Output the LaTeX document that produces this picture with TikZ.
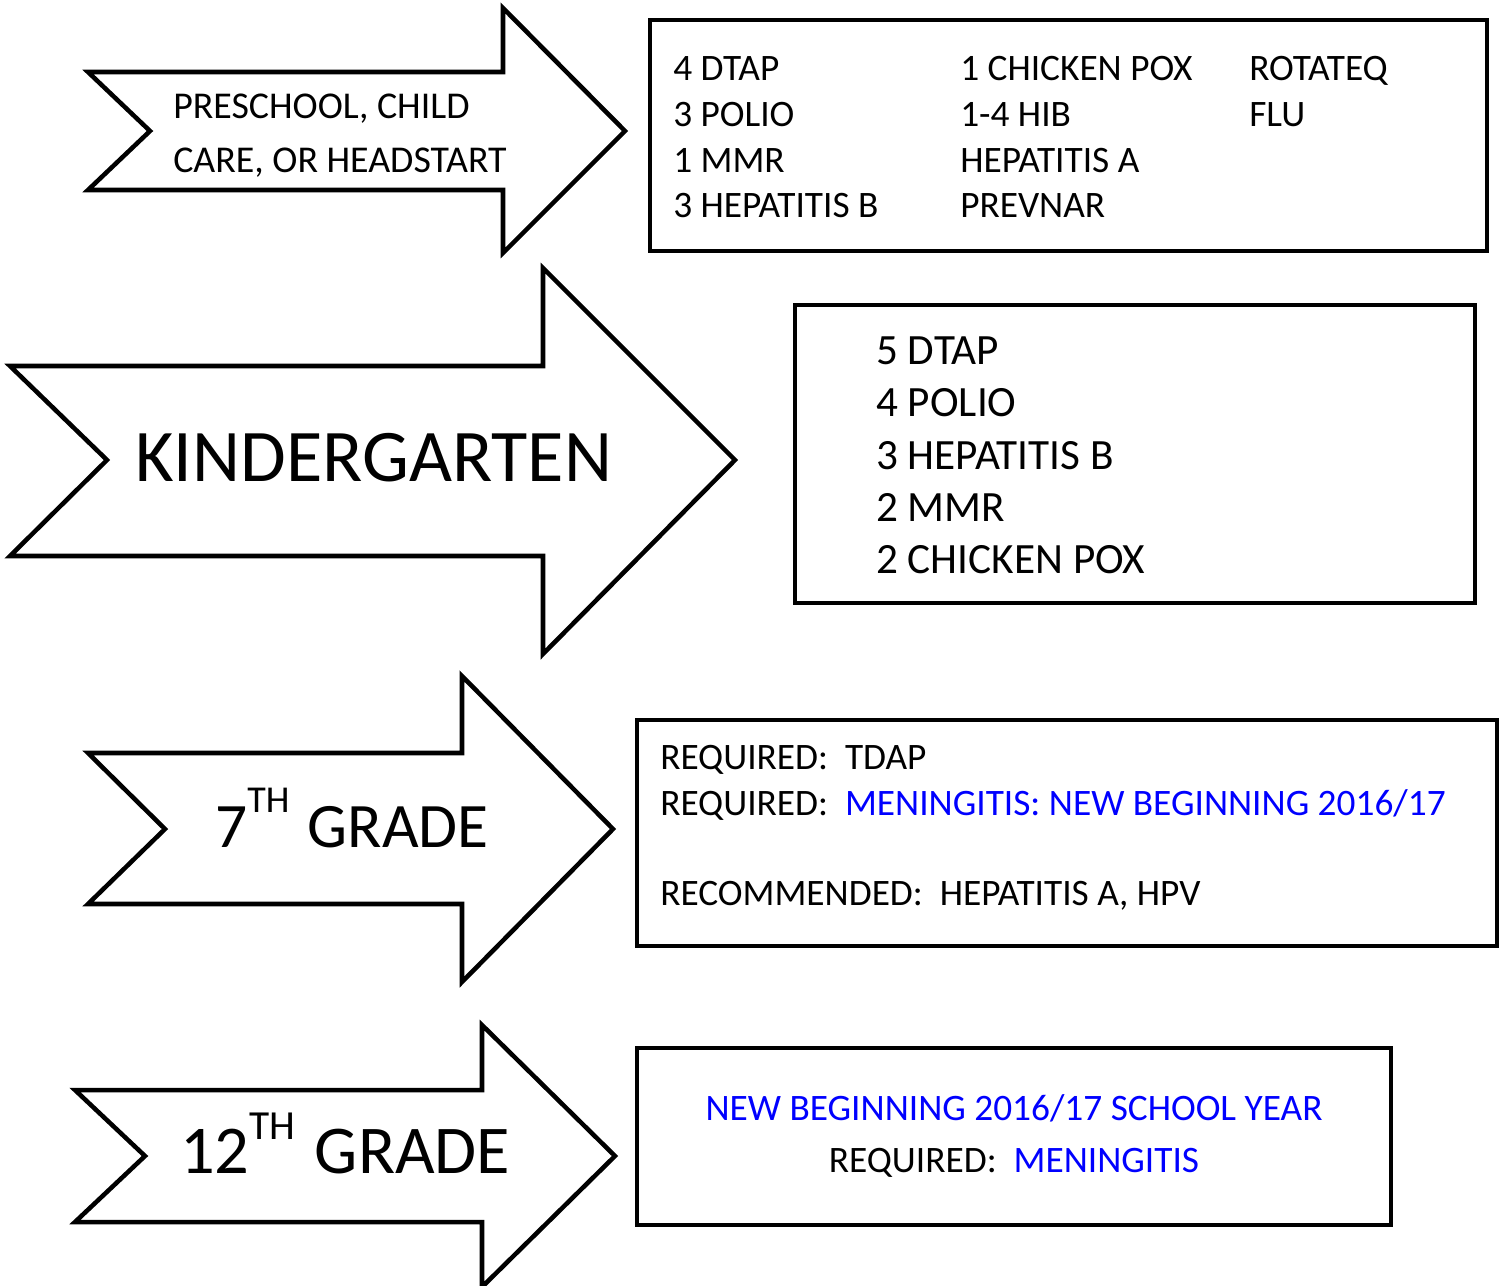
\documentclass[tikz,border=0pt]{standalone}
\usepackage{fontspec}
\setmainfont{Carlito}

\begin{document}
\begin{tikzpicture}[x=0.75pt, y=-0.75pt, grade arrow/.style={line width=3.4pt, fill=white}, list box/.style={line width=3.4pt}, item/.style={anchor=base west, inner sep=0pt, font=\fontsize{28}{34}\selectfont}, big item/.style={anchor=base west, inner sep=0pt, font=\fontsize{32.4}{39}\selectfont}]
  \useasboundingbox (0,0) rectangle (1502,1285);

  % arrows
  \draw[grade arrow] (88,72) -- (503,72) -- (503,8) -- (625,131) -- (503,253) -- (503,190) -- (88,190) -- (150,131) -- cycle;
  \draw[grade arrow] (10,366) -- (543,366) -- (543,268) -- (735,460) -- (543,654) -- (543,556) -- (10,556) -- (107,460) -- cycle;
  \draw[grade arrow] (88,753) -- (462,753) -- (462,676) -- (613,829) -- (462,982) -- (462,904) -- (88,904) -- (165,829) -- cycle;
  \draw[grade arrow] (75,1090) -- (482,1090) -- (482,1025) -- (615,1156) -- (482,1287) -- (482,1222) -- (75,1222) -- (145,1156) -- cycle;

  % boxes
  \draw[list box] (650,20) rectangle (1487,251);
  \draw[list box] (795,305) rectangle (1475,603);
  \draw[list box] (637,720) rectangle (1497,946);
  \draw[list box] (637,1048) rectangle (1391,1225);

  \node[item, font=\fontsize{28.4}{34}\selectfont] (pre1) at (173,118) {PRESCHOOL, CHILD};
  \node[item, font=\fontsize{28.4}{34}\selectfont] (pre2) at (173,172) {CARE, OR HEADSTART};
  \node[anchor=base west, inner sep=0pt, font=\fontsize{55.7}{67}\selectfont] (kg) at (135,481) {KINDERGARTEN};
  \node[anchor=base west, inner sep=0pt, font=\fontsize{47.5}{57}\selectfont] (g7) at (215,847) {7\raisebox{26pt}{\fontsize{28.5}{34}\selectfont TH}\hspace{3pt} GRADE};
  \node[anchor=base west, inner sep=0pt, font=\fontsize{51.3}{62}\selectfont] (g12) at (180,1173) {12\raisebox{25pt}{\fontsize{31}{37}\selectfont TH}\hspace{3pt} GRADE};

  \node[item] (p1) at (673,80) {4 DTAP};
  \node[item] (p2) at (673,126) {3 POLIO};
  \node[item] (p3) at (673,172) {1 MMR};
  \node[item] (p4) at (673,217) {3 HEPATITIS B};
  \node[item] (p5) at (960,80) {1 CHICKEN POX};
  \node[item] (p6) at (960,126) {1-4 HIB};
  \node[item] (p7) at (960,172) {HEPATITIS A};
  \node[item] (p8) at (960,217) {PREVNAR};
  \node[item] (p9) at (1249,80) {ROTATEQ};
  \node[item] (p10) at (1249,126) {FLU};

  \node[big item] (k1) at (876,364) {5 DTAP};
  \node[big item] (k2) at (876,416) {4 POLIO};
  \node[big item] (k3) at (876,469) {3 HEPATITIS B};
  \node[big item] (k4) at (876,521) {2 MMR};
  \node[big item] (k5) at (876,573) {2 CHICKEN POX};

  \node[item] (s1) at (660,769) {REQUIRED:\ \ TDAP};
  \node[item] (s2) at (660,815) {REQUIRED:\ \ \textcolor{blue}{MENINGITIS: NEW BEGINNING 2016/17}};
  \node[item] (s3) at (660,905) {RECOMMENDED:\ \ HEPATITIS A, HPV};

  \node[item, anchor=base] (t1) at (1014,1120) {\textcolor{blue}{NEW BEGINNING 2016/17 SCHOOL YEAR}};
  \node[item, anchor=base] (t2) at (1014,1172) {REQUIRED:\ \ \textcolor{blue}{MENINGITIS}};
\end{tikzpicture}
\end{document}
